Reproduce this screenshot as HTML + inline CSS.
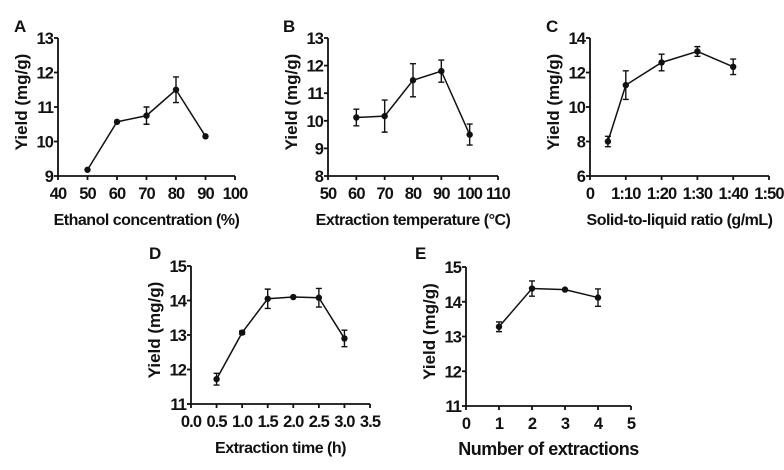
<!DOCTYPE html>
<html><head><meta charset="utf-8"><style>
body{margin:0;background:#fff;width:784px;height:465px;overflow:hidden}
svg text{font-family:"Liberation Sans",Arial,sans-serif;font-weight:bold;fill:#111}
svg text.tk{letter-spacing:-0.9px}
svg text.tt{letter-spacing:-0.5px}
</style></head><body>
<svg id="fig" width="784" height="465" xmlns="http://www.w3.org/2000/svg"></svg>
<script>
// Panel A
const aX=[50,60,70,80,90], aY=[9.18,10.57,10.75,11.5,10.15], aE=[0,0,0.25,0.37,0];
const aXT=[40,50,60,70,80,90,100], aXL=["40","50","60","70","80","90","100"], aYT=[9,10,11,12,13];
// Panel B
const bX=[60,70,80,90,100], bY=[10.12,10.17,11.47,11.8,9.5], bE=[0.3,0.58,0.6,0.4,0.38];
const bXT=[50,60,70,80,90,100,110], bXL=["50","60","70","80","90","100","110"], bYT=[8,9,10,11,12,13];
// Panel C
const cX=[5,10,20,30,40], cY=[8.0,11.27,12.58,13.22,12.33], cE=[0.3,0.83,0.48,0.28,0.45];
const cXT=[0,10,20,30,40,50], cXL=["0","1:10","1:20","1:30","1:40","1:50"], cYT=[6,8,10,12,14];
// Panel D
const dX=[0.5,1,1.5,2,2.5,3], dY=[11.72,13.07,14.05,14.1,14.08,12.9], dE=[0.17,0.05,0.28,0,0.27,0.24];
const dXT=[0,0.5,1,1.5,2,2.5,3,3.5], dXL=["0.0","0.5","1.0","1.5","2.0","2.5","3.0","3.5"], dYT=[11,12,13,14,15];
// Panel E
const eX=[1,2,3,4], eY=[13.28,14.38,14.35,14.12], eE=[0.14,0.22,0,0.25];
const eXT=[0,1,2,3,4,5], eXL=["0","1","2","3","4","5"], eYT=[11,12,13,14,15];

const svg=document.getElementById('fig');
const NS="http://www.w3.org/2000/svg";
function mk(t,a,p){const e=document.createElementNS(NS,t);for(const k in a)e.setAttribute(k,a[k]);(p||svg).appendChild(e);return e;}
function panel(id,letter,L,R,T,B,xs,ys,es,xt,xl,yt,xTitle,tfs,lx,ly){
  const g=mk('g',{});
  
  
  const x0=xt[0],x1=xt[xt.length-1],y0=yt[0],y1=yt[yt.length-1];
  const sx=v=>L+(v-x0)/(x1-x0)*(R-L), sy=v=>B-(v-y0)/(y1-y0)*(B-T);
  const ax=mk('path',{d:`M${L},${T}V${B}H${R}`,fill:'none',stroke:'#111','stroke-width':1.8},g);
  
  
  yt.forEach(v=>{mk('line',{x1:L-4,x2:L,y1:sy(v),y2:sy(v),stroke:'#111','stroke-width':1.8},g);
    const t=mk('text',{x:L-5,y:sy(v)+6,'text-anchor':'end','font-size':16.5,class:'tk'},g);t.textContent=v;
    
    });
  xt.forEach((v,i)=>{mk('line',{x1:sx(v),x2:sx(v),y1:B,y2:B+4,stroke:'#111','stroke-width':1.8},g);
    const t=mk('text',{x:sx(v),y:B+23,'text-anchor':'middle','font-size':16.5,class:'tk'},g);t.textContent=xl[i];
    
    });
  const line=mk('polyline',{points:xs.map((v,i)=>sx(v)+','+sy(ys[i])).join(' '),fill:'none',stroke:'#111','stroke-width':1.5},g);
  
  
  xs.forEach((v,i)=>{const cx=sx(v),cy=sy(ys[i]);
    if(es[i]>0){const a=sy(ys[i]+es[i]),b=sy(ys[i]-es[i]);
      const eb=mk('path',{d:`M${cx},${a}V${b}M${cx-3},${a}H${cx+3}M${cx-3},${b}H${cx+3}`,stroke:'#111','stroke-width':1.4,fill:'none'},g);
      
      }
    const c=mk('circle',{cx:cx,cy:cy,r:3.2,fill:'#111'},g);
    
    });
  const xtT=mk('text',{x:(L+R)/2,y:B+49,'text-anchor':'middle','font-size':tfs,class:'tt'},g);xtT.textContent=xTitle;
  
  
  const yc=(T+B)/2-5, yx=L-31;
  const ytT=mk('text',{x:yx,y:yc,'text-anchor':'middle','font-size':17,transform:`rotate(-90 ${yx} ${yc})`},g);ytT.textContent='Yield (mg/g)';
  
  
  const lt=mk('text',{x:lx,y:ly,'font-size':17},g);lt.textContent=letter;
  
  
}
panel('a','A',58,235,38,176,aX,aY,aE,aXT,aXL,aYT,'Ethanol concentration (%)',16,14,32);
panel('b','B',328,498,38,176,bX,bY,bE,bXT,bXL,bYT,'Extraction temperature (°C)',16,283,32);
panel('c','C',590,769,38,176,cX,cY,cE,cXT,cXL,cYT,'Solid-to-liquid ratio (g/mL)',16,546,32);
panel('d','D',191,370,266,404,dX,dY,dE,dXT,dXL,dYT,'Extraction time (h)',16,149,259);
panel('e','E',466,631,267,406,eX,eY,eE,eXT,eXL,eYT,'Number of extractions',18,415,259);
</script>
</body></html>
